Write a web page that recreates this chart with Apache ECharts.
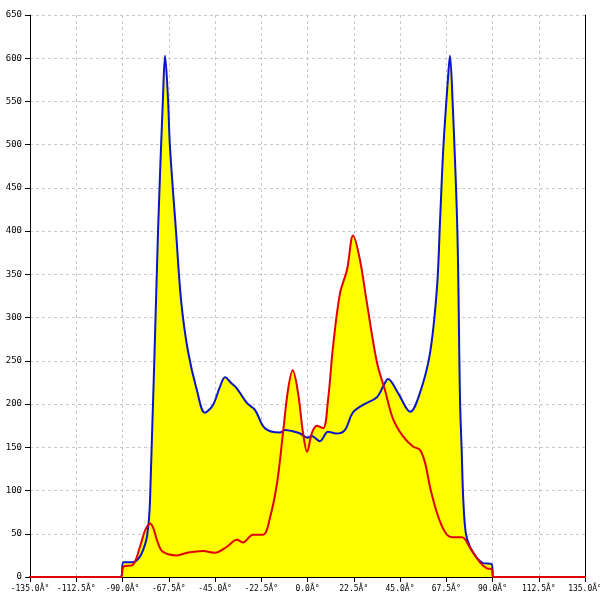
<!DOCTYPE html>
<html>
<head>
<meta charset="utf-8">
<script src="https://cdn.jsdelivr.net/npm/echarts@6/dist/echarts.min.js"></script>
<style>html,body{margin:0;padding:0;background:#fff;}#c{width:600px;height:600px;}</style>
</head>
<body>
<div id="c"></div>
<script>
// Angle values (degrees) and intensities
var blueX = [-150, -91, -89.5, -85, -82, -80, -78, -76.6, -72.7, -70.3, -69.3, -67.9, -66.9, -64, -61.5, -58.2, -53.8, -49.9, -46, -42.6, -40.1, -37, -34.3, -29.4, -25.5, -20.7, -13.4, -11, -8, -3.6, 0, 2, 6, 10, 14, 18.2, 22, 27, 33.8, 36.7, 39.2, 44, 50, 54.7, 59.6, 63, 64.5, 66.1, 68.3, 69.3, 70.5, 72.9, 74.2, 75.0, 75.8, 77, 79, 82.4, 85.4, 89.5, 90.5, 150];
var blueY = [0, 0, 17, 17, 22, 31, 48, 89, 401, 555, 603, 555, 497, 401, 320, 262, 216, 190, 199, 220, 231, 224, 218, 201, 193, 172, 167, 170, 169, 166, 161, 163, 157, 168, 166, 170, 190, 199, 208, 220, 229, 213, 191, 213, 259, 335, 413, 497, 575, 603, 555, 401, 205, 147, 89, 51, 35, 22, 16, 15, 0, 0];
var redX = [-150, -91, -89.5, -85, -81.5, -79, -76.6, -75.1, -72.7, -70.3, -63.5, -58.6, -50.8, -45, -39.2, -34.3, -31.4, -26.5, -21.6, -18.2, -14.8, -11.9, -9.5, -7.2, -4.6, -2.2, -0.2, 2.2, 4.6, 7.6, 10, 12.4, 15.8, 19.2, 22.2, 25.5, 28.9, 33.8, 37.7, 41.6, 46.4, 51.3, 54.7, 57.2, 59.6, 63, 66.9, 70.3, 75.2, 79, 83.9, 87.3, 89.7, 90.5, 150];
var redY = [0, 0, 12, 14, 35, 54, 62, 57, 39, 29, 25, 28, 30, 28, 35, 43, 40, 49, 49, 69, 109, 167, 216, 239, 213, 167, 145, 167, 175, 172, 205, 266, 328, 355, 395, 367, 317, 248, 216, 183, 163, 151, 147, 132, 104, 74, 52, 46, 46, 34, 17, 10, 9, 0, 0];
var xTicks = [-135, -112.5, -90, -67.5, -45, -22.5, 0, 22.5, 45, 67.5, 90, 112.5, 135];
var yTicks = [0, 50, 100, 150, 200, 250, 300, 350, 400, 450, 500, 550, 600, 650];

function pairs(xs, ys) { return xs.map(function (x, i) { return [x, ys[i]]; }); }
var blueData = pairs(blueX, blueY);
var redData = pairs(redX, redY);

var chart = echarts.init(document.getElementById('c'), null, {renderer: 'canvas'});
var gridLine = {show: true, lineStyle: {color: '#c8c8c8', type: [3, 3], width: 1}};
var SM = 0.35;
chart.setOption({
  animation: false,
  backgroundColor: '#ffffff',
  grid: {left: 30, right: 15, top: 15, bottom: 23, containLabel: false, outerBoundsMode: 'none'},
  xAxis: {
    type: 'value', min: xTicks[0], max: xTicks[xTicks.length - 1], interval: 22.5,
    axisLine: {show: true, onZero: false, lineStyle: {color: '#000', width: 1}},
    axisTick: {show: true, length: 5, lineStyle: {color: '#000'}},
    axisLabel: {
      fontFamily: 'DejaVu Sans Mono', fontSize: 8, color: '#000', margin: 8,
      formatter: function (v) { return v.toFixed(1) + 'Â°'; }
    },
    splitLine: gridLine
  },
  yAxis: [{
    type: 'value', min: yTicks[0], max: yTicks[yTicks.length - 1], interval: 50,
    axisLine: {show: true, onZero: false, lineStyle: {color: '#000', width: 1}},
    axisTick: {show: true, length: 5, lineStyle: {color: '#000'}},
    axisLabel: {fontFamily: 'DejaVu Sans Mono', fontSize: 9, color: '#000', margin: 8},
    splitLine: gridLine
  }, {
    type: 'value', position: 'right', min: yTicks[0], max: yTicks[yTicks.length - 1], interval: 50,
    axisLine: {show: true, onZero: false, lineStyle: {color: '#000', width: 1}},
    axisTick: {show: false}, axisLabel: {show: false}, splitLine: {show: false}
  }],
  series: [
    {type: 'line', data: blueData, smooth: SM, symbol: 'none',
     lineStyle: {width: 0}, areaStyle: {color: '#ffff00', opacity: 1}, z: 1},
    {type: 'line', data: redData, smooth: SM, symbol: 'none',
     lineStyle: {width: 0}, areaStyle: {color: '#ffff00', opacity: 1}, z: 1},
    {type: 'line', data: blueData, smooth: SM, symbol: 'none',
     lineStyle: {width: 2, color: '#0a14c8'}, z: 3},
    {type: 'line', data: redData, smooth: SM, symbol: 'none', clip: false,
     lineStyle: {width: 2, color: '#e00000'}, z: 4}
  ]
});
</script>
</body>
</html>
